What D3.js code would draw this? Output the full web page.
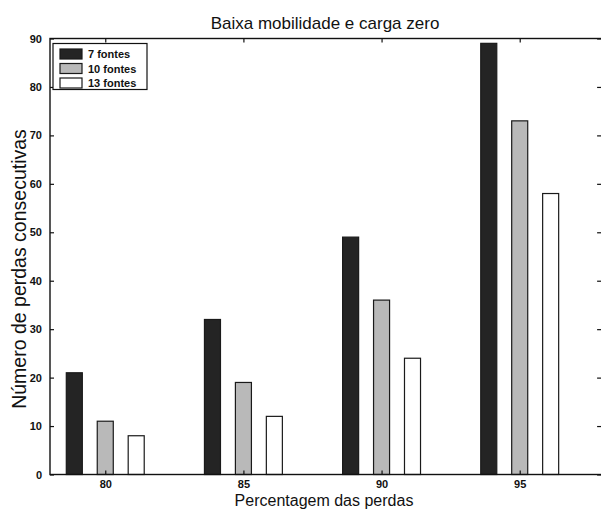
<!DOCTYPE html>
<html lang="pt">
<head>
  <meta charset="UTF-8">
  <title>Baixa mobilidade e carga zero</title>
  <script src="https://cdn.jsdelivr.net/npm/d3@7"></script>
</head>
<style>
  body { margin: 0; background: #fff; }
  text { font-family: "Liberation Sans", Arial, Helvetica, sans-serif; fill: #111; }
  .tick text { font-size: 11px; font-weight: bold; }
  .legend text { font-size: 11px; font-weight: bold; }
</style>
<body>
<div id="chart"></div>
<script>
// data
var categories = [80, 85, 90, 95];
var seriesNames = ["7 fontes", "10 fontes", "13 fontes"];
var fontes7 = [21, 32, 49, 89];
var fontes10 = [11, 19, 36, 73];
var fontes13 = [8, 12, 24, 58];
var yTicks = [0, 10, 20, 30, 40, 50, 60, 70, 80, 90];

var series = [fontes7, fontes10, fontes13];
var fills = ["#242424", "#b9b9b9", "#ffffff"];

var width = 601, height = 510;
var svg = d3.select("#chart").append("svg")
    .attr("width", width)
    .attr("height", height);

var x = d3.scaleLinear().domain([78, 98]).range([50, 602.6]);
var y = d3.scaleLinear().domain([0, 90]).range([474.5, 38.5]);

var groupStep = 1.12;   // distance between bars of one group, in x units
var barW = x(78.58) - x(78);

// bars
series.forEach(function(vals, s) {
  svg.append("g").selectAll("rect")
    .data(vals)
    .enter().append("rect")
      .attr("x", function(d, i) { return x(categories[i] + (s - 1) * groupStep) - barW / 2; })
      .attr("y", function(d) { return y(d); })
      .attr("width", barW)
      .attr("height", function(d) { return y(0) - y(d); })
      .attr("fill", fills[s])
      .attr("stroke", "#1a1a1a")
      .attr("stroke-width", 1.2);
});

// axes, ticks pointing inward like matlab
svg.append("g")
    .attr("transform", "translate(0," + y(0) + ")")
    .call(d3.axisBottom(x).tickValues(categories).tickSizeInner(-4).tickSizeOuter(0).tickPadding(6))
    .call(function(g) { g.select(".domain").remove(); });

svg.append("g")
    .attr("transform", "translate(0," + y(90) + ")")
    .call(d3.axisTop(x).tickValues(categories).tickSizeInner(-4).tickSizeOuter(0).tickFormat(""))
    .call(function(g) { g.select(".domain").remove(); });

svg.append("g")
    .attr("transform", "translate(" + x(78) + ",0)")
    .call(d3.axisLeft(y).tickValues(yTicks).tickSizeInner(-4).tickSizeOuter(0).tickPadding(8))
    .call(function(g) { g.select(".domain").remove(); });

svg.append("g")
    .attr("transform", "translate(" + (x(98) - 1.5) + ",0)")
    .call(d3.axisRight(y).tickValues(yTicks).tickSizeInner(-4).tickSizeOuter(0).tickFormat(""))
    .call(function(g) { g.select(".domain").remove(); });

svg.selectAll(".tick line").attr("stroke", "#111").attr("stroke-width", 1.2);

// axes box
svg.append("rect")
    .attr("x", x(78))
    .attr("y", y(90))
    .attr("width", x(98) - x(78))
    .attr("height", y(0) - y(90))
    .attr("fill", "none")
    .attr("stroke", "#111")
    .attr("stroke-width", 1.4);

// titles
svg.append("text")
    .attr("x", 325)
    .attr("y", 29)
    .attr("text-anchor", "middle")
    .style("font-size", "17px")
    .text("Baixa mobilidade e carga zero");

svg.append("text")
    .attr("x", 324)
    .attr("y", 505.5)
    .attr("text-anchor", "middle")
    .style("font-size", "16px")
    .text("Percentagem das perdas");

svg.append("text")
    .attr("transform", "translate(25.5,269) rotate(-90)")
    .attr("text-anchor", "middle")
    .style("font-size", "19.5px")
    .text("Número de perdas consecutivas");

// legend
var legend = svg.append("g").attr("class", "legend");
legend.append("rect")
    .attr("x", 53).attr("y", 43.5)
    .attr("width", 94).attr("height", 46)
    .attr("fill", "#fff")
    .attr("stroke", "#111")
    .attr("stroke-width", 1.2);

var item = legend.selectAll(".item")
    .data(seriesNames)
    .enter().append("g")
    .attr("transform", function(d, i) { return "translate(60," + (49 + i * 14.5) + ")"; });

item.append("rect")
    .attr("width", 22).attr("height", 10)
    .attr("fill", function(d, i) { return fills[i]; })
    .attr("stroke", "#1a1a1a")
    .attr("stroke-width", 1.2);

item.append("text")
    .attr("x", 28)
    .attr("y", 9)
    .text(function(d) { return d; });
</script>
</body>
</html>
